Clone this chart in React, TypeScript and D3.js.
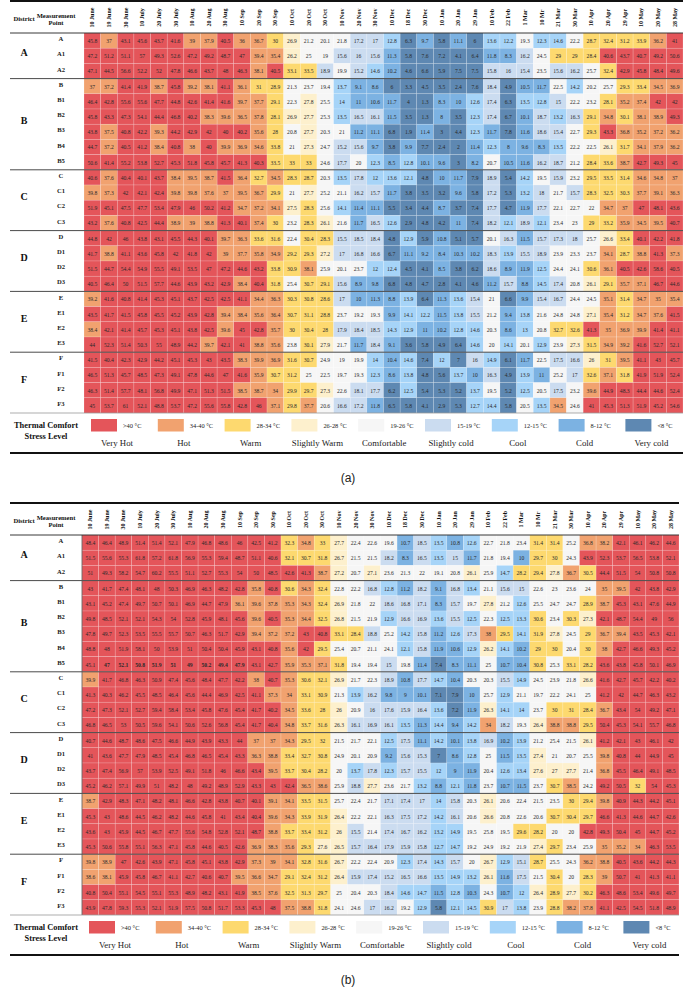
import React from 'react';
import * as d3 from 'd3';

// ---- Axis categories -------------------------------------------------------
const dates = [
  '10 June', '19 June', '30 June', '10 July', '20 July', '30 July', '10 Aug', '20 Aug', '30 Aug',
  '10 Sep', '20 Sep', '30 Sep', '10 Oct', '20 Oct', '30 Oct', '10 Nov', '20 Nov', '30 Nov',
  '10 Dec', '18 Dec', '30 Dec', '10 Jan', '20 Jan', '29 Jan', '10 Feb', '22 Feb', '1 Mar',
  '10 Mr', '21 Mar', '30 Mar', '10 Apr', '20 Apr', '29 Apr', '10 May', '20 May', '28 May',
];

const districts = ['A', 'B', 'C', 'D', 'E', 'F'];
const pointsA = ['A', 'A1', 'A2'];
const pointsB = ['B', 'B1', 'B2', 'B3', 'B4', 'B5'];
const pointsC = ['C', 'C1', 'C2', 'C3'];
const pointsD = ['D', 'D1', 'D2', 'D3'];
const pointsE = ['E', 'E1', 'E2', 'E3'];
const pointsF = ['F', 'F1', 'F2', 'F3'];

// ---- Panel (a) values (°C) -------------------------------------------------
const a_A = [
  [45.8, 37, 43.1, 45.6, 43.7, 41.6, 39, 37.9, 40.5, 36, 36.7, 30, 26.9, 21.2, 20.1, 21.8, 17.2, 17, 12.8, 6.3, 9.7, 5.8, 11.1, 6, 13.6, 12.2, 19.3, 12.3, 14.6, 22.2, 28.7, 32.4, 31.2, 33.9, 36.2, 41],
  [47.2, 51.2, 51.1, 57, 49.3, 52.6, 47.2, 49.2, 48.7, 47, 39.4, 35.4, 26.2, 25, 19, 15.6, 16, 15.6, 11.3, 5.8, 7.6, 7.2, 4.1, 6.4, 11.8, 8.3, 16.2, 24.5, 29, 29, 28.4, 40.6, 43.7, 40.7, 49.2, 50.6],
  [47.1, 44.5, 56.6, 52.2, 52, 47.8, 46.6, 43.7, 48, 46.3, 38.1, 40.5, 33.1, 33.5, 18.9, 19.9, 15.2, 14.6, 10.2, 4.6, 6.6, 5.9, 7.5, 7.5, 15.8, 16, 15.4, 23.5, 15.6, 16.2, 25.7, 32.4, 42.9, 45.8, 48.4, 49.6],
];
const a_B = [
  [37, 37.2, 41.4, 41.9, 38.7, 45.8, 39.2, 38.1, 41.1, 36.1, 31, 28.9, 21.3, 23.7, 19.4, 13.7, 9.1, 8.6, 6, 3.3, 4.5, 3.5, 2.4, 7.6, 18.4, 4.9, 10.5, 11.7, 22.5, 14.2, 20.2, 25.7, 29.3, 33.4, 34.5, 36.9],
  [46.4, 42.8, 55.6, 55.6, 47.7, 44.8, 42.6, 41.4, 41.6, 39.7, 37.7, 29.1, 22.3, 27.8, 25.5, 14, 11, 10.6, 11.7, 4, 1.3, 8.3, 10, 12.6, 17.4, 6.3, 13.5, 12.8, 15, 22.2, 23.2, 28.1, 35.2, 37.4, 42, 42],
  [45.8, 43.3, 47.3, 54.1, 44.4, 46.8, 40.2, 38.3, 39.6, 36.5, 37.8, 28.1, 26.9, 27.7, 25.3, 13.5, 16.5, 16.1, 11.5, 3.5, 1.3, 8, 3.5, 12.3, 17.4, 6.7, 10.1, 18.7, 13.2, 16.3, 29.1, 34.8, 30.1, 38.1, 38.9, 49.3],
  [43.8, 37.5, 40.8, 42.2, 39.3, 44.2, 42.9, 42, 40, 40.2, 35.6, 28, 20.8, 27.7, 20.3, 21, 11.2, 11.1, 6.8, 1.9, 11.4, 3, 4.4, 12.3, 11.7, 7.8, 11.6, 18.6, 15.4, 22.7, 29.3, 43.3, 36.8, 35.2, 37.2, 36.2],
  [44.7, 37.2, 40.5, 41.2, 38.4, 40.8, 38, 40, 39.9, 36.9, 34.6, 33.8, 21, 27.3, 24.7, 15.2, 15.6, 9.7, 3.8, 9.9, 7.7, 2.4, 2, 11.4, 12.3, 8, 9.6, 8.3, 13.5, 22.2, 22.5, 26.1, 31.7, 34.1, 37.9, 36.2],
  [50.6, 41.4, 55.2, 53.8, 52.7, 45.3, 51.8, 45.8, 45.7, 41.3, 40.3, 33.5, 33, 33, 24.6, 17.7, 20, 12.3, 8.5, 12.8, 10.1, 9.6, 3, 8.2, 20.7, 10.5, 11.6, 16.2, 18.7, 21.2, 28.4, 33.6, 38.7, 42.7, 49.3, 45],
];
const a_C = [
  [40.6, 37.6, 40.4, 40.1, 43.7, 38.4, 39.5, 38.7, 41.5, 36.4, 32.7, 34.5, 28.3, 28.7, 20.3, 13.5, 17.8, 12, 13.6, 12.1, 4.8, 10, 11.7, 7.9, 18.9, 5.4, 14.2, 19.5, 15.9, 23.2, 29.5, 33.5, 31.4, 34.6, 34.8, 37],
  [39.8, 37.3, 42, 42.1, 42.4, 39.8, 39.8, 37.6, 37, 39.5, 36.7, 29.9, 21, 27.7, 25.2, 21.1, 16.2, 15.7, 11.7, 3.8, 3.5, 3.2, 9.6, 5.8, 17.2, 5.3, 13.2, 18, 21.7, 15.7, 28.3, 32.5, 30.3, 37.7, 39.1, 36.3],
  [51.9, 45.1, 47.5, 47.7, 53.4, 47.9, 46, 50.2, 41.2, 34.7, 37.2, 34.1, 27.5, 28.3, 25.6, 14.1, 11.4, 11.1, 5.5, 3.4, 4.4, 8.7, 3.7, 7.4, 17.7, 4.7, 11.9, 17.7, 22.1, 22.7, 22, 34.7, 37, 47, 48.1, 43.6],
  [43.2, 37.6, 40.8, 42.5, 44.4, 38.9, 39, 38.8, 41.3, 40.1, 37.4, 30, 23.2, 28.3, 26.1, 21.6, 11.7, 16.5, 12.6, 2.9, 4.8, 4.2, 11, 7.4, 18.2, 12.1, 18.9, 12.1, 23.4, 23, 29, 33.2, 35.9, 34.5, 39.5, 40.7],
];
const a_D = [
  [44.8, 42, 46, 43.8, 43.1, 45.5, 44.3, 40.1, 39.7, 36.3, 33.6, 31.6, 22.4, 30.4, 28.3, 15.5, 18.5, 18.4, 4.8, 12.9, 5.9, 10.8, 5.1, 5.7, 20.1, 16.3, 11.5, 15.7, 17.3, 18, 25.7, 26.6, 33.4, 40.1, 42.2, 41.8],
  [41.7, 38.8, 41.1, 43.6, 45.8, 42, 41.8, 42, 39, 37.7, 35.8, 34.9, 29.2, 29.3, 27.2, 17, 16.8, 16.6, 6.7, 11.1, 9.2, 8.4, 10.3, 10.2, 18.3, 13.9, 15.5, 18.9, 23.9, 23.3, 23.7, 34.1, 28.7, 38.8, 41.3, 37.3],
  [51.5, 44.7, 54.4, 54.9, 55.5, 49.1, 53.5, 47, 47.2, 44.6, 43.2, 33.8, 30.9, 38.1, 25.9, 20.1, 23.7, 12, 12.4, 4.5, 4.1, 8.5, 3.8, 6.2, 18.6, 8.9, 11.9, 12.5, 24.4, 24.1, 30.6, 36.1, 40.5, 42.6, 58.6, 40.5],
  [40.5, 46.4, 50, 51.5, 57.7, 44.6, 43.9, 43.2, 42.9, 38.4, 40.4, 31.8, 25.4, 30.7, 29.1, 15.6, 8.9, 9.8, 6.8, 4.8, 4.7, 2.8, 4.1, 4.6, 11.2, 15.7, 8.8, 14.5, 17.4, 20.8, 26.1, 29.1, 35.7, 37.1, 46.7, 44.6],
];
const a_E = [
  [39.2, 41.6, 40.8, 41.4, 45.3, 45.1, 43.7, 42.5, 42.5, 41.1, 34.4, 36.3, 30.3, 30.8, 28.6, 17, 10, 11.3, 8.8, 13.9, 6.4, 11.3, 13.6, 15.4, 21, 6.6, 9.9, 15.4, 16.7, 24.4, 24.5, 35.1, 31.4, 34.7, 35, 35.4],
  [43.5, 41.7, 41.5, 45.8, 45.5, 45.2, 43.9, 42.8, 39.4, 38.4, 35.6, 36.4, 30.7, 31.1, 28.8, 23.7, 19.2, 19.3, 9.9, 14.1, 12.2, 11.5, 13.8, 15.5, 21.2, 9.4, 13.8, 21.6, 24.8, 24.8, 27.1, 35.4, 31.2, 34.7, 37.6, 41.5],
  [38.4, 42.1, 41.4, 45.7, 45.3, 45.1, 43.8, 42.5, 39.6, 45, 42.8, 35.7, 30, 30.4, 28, 17.9, 18.4, 18.5, 14.3, 12.9, 11, 10.2, 12.8, 14.6, 20.3, 8.6, 13, 20.8, 32.7, 32.6, 41.3, 35, 36.9, 39.9, 41.4, 41.1],
  [44, 52.3, 51.4, 50.3, 55, 48.9, 44.2, 39.7, 42.1, 41, 38.8, 35.6, 23.8, 30.1, 27.9, 21.7, 11.7, 18.4, 9.1, 3.6, 5.8, 4.9, 6.4, 14.6, 20, 14.1, 20.1, 12.9, 23.9, 27.3, 31.5, 34.9, 39.2, 41.6, 52.7, 52.1],
];
const a_F = [
  [41.5, 40.4, 42.3, 42.9, 44.2, 45.1, 45.3, 43, 43.5, 38.3, 39.9, 36.9, 31.6, 30.7, 24.9, 19, 19.9, 14, 10.4, 14.6, 7.4, 12, 7, 16, 14.9, 6.1, 11.7, 22.5, 17.5, 16.6, 26, 31, 39.5, 41.1, 43, 45.7],
  [46.5, 51.3, 45.7, 48.5, 47.3, 49.1, 47.8, 44.6, 47, 41.6, 35.9, 30.7, 31.2, 25, 22.5, 19.7, 19.3, 12.3, 8.6, 13.8, 4.8, 5.6, 13.7, 10, 16.3, 4.9, 13.9, 11, 25.2, 17, 32.6, 37.1, 31.8, 41.9, 51.9, 52.4],
  [46.3, 51.4, 57.7, 48.1, 56.8, 49.9, 47.1, 51.3, 51.5, 38.5, 38.7, 34, 29.9, 29.7, 27.3, 22.6, 18.1, 17.7, 6.2, 12.5, 5.4, 5.3, 5.2, 13.7, 19.5, 5.2, 12.5, 20.5, 17.5, 23.2, 39.6, 44.9, 48.3, 44.4, 44.6, 52.4],
  [45, 53.7, 61, 52.1, 48.8, 53.7, 47.2, 55.6, 55.8, 42.8, 46, 37.1, 29.8, 37.7, 20.6, 16.6, 17.2, 11.8, 6.5, 5.8, 4.1, 2.9, 5.3, 12.7, 14.4, 5.8, 20.5, 13.5, 34.5, 24.6, 41, 45.3, 51.3, 51.9, 45.2, 54.6],
];

// ---- Panel (b) values (°C) -------------------------------------------------
const b_A = [
  [48.4, 46.4, 48.9, 51.4, 51.4, 52.1, 47.9, 46.8, 48.6, 46, 42.5, 41.2, 32.3, 34.8, 33, 27.7, 22.4, 22.6, 19.6, 10.7, 18.5, 13.5, 10.8, 12.6, 22.7, 21.8, 23.4, 31.4, 31.4, 25.2, 36.8, 38.2, 42.1, 46.1, 46.2, 44.6],
  [51.5, 55.6, 55.3, 61.8, 57.2, 61.8, 56.9, 55.3, 59.4, 48.7, 51.1, 40.6, 32.1, 30.7, 31.8, 26.7, 21.5, 21.5, 18.2, 8.3, 16.5, 13.5, 15, 11.7, 21.8, 19.4, 10, 29.7, 30, 24.3, 43.9, 52.3, 53.7, 56.5, 53.8, 52.1],
  [51, 49.3, 58.2, 54.7, 60.2, 55.5, 51.1, 52.7, 55.3, 54, 50, 48.5, 42.6, 41.3, 38.7, 27.2, 20.7, 27.1, 23.6, 21.3, 22, 19.1, 20.8, 26.1, 25.9, 14.7, 28.2, 29.4, 27.8, 36.7, 30.5, 44.4, 51.5, 54, 50.8, 50.8],
];
const b_B = [
  [43, 41.7, 47.4, 48.1, 48, 50.3, 46.9, 46.3, 48.2, 42.8, 35.8, 40.8, 30.6, 34.3, 32.4, 22.8, 22.2, 16.8, 12.8, 11.2, 18.2, 9.1, 16.8, 13.4, 21.1, 15.6, 15, 22.6, 23, 23.6, 24, 35, 39.5, 42, 43.8, 42.9],
  [43.1, 45.2, 47.4, 49.7, 50.7, 50.1, 46.9, 44.7, 47.9, 36.1, 39.6, 37.8, 35.3, 34.3, 32.4, 26.9, 21.8, 22, 18.6, 16.8, 17.1, 8.3, 15.7, 19.7, 27.8, 21.2, 12.6, 25.5, 24.7, 24.7, 28.9, 38.7, 45.3, 43.1, 47.6, 44.9],
  [49.8, 48.5, 52.1, 52.1, 54.3, 54, 52.8, 45.9, 48.1, 45.6, 39.6, 40.5, 35.3, 34.4, 32.5, 26.8, 21.5, 21.9, 12.9, 16.6, 16.9, 13.6, 15.5, 12.5, 22.3, 12.5, 13.3, 30.6, 23.4, 30.3, 27.3, 42.1, 48.7, 54.4, 49, 56],
  [47.8, 49.7, 52.3, 53.5, 55.5, 55.7, 50.7, 46.3, 51.7, 42.9, 39.4, 37.2, 37.2, 43, 40.8, 33.1, 28.4, 18.8, 25.2, 14.2, 15.8, 11.2, 12.6, 17.3, 38, 29.5, 14.1, 31.9, 27.8, 24.5, 29, 36.7, 39.4, 43.5, 45.3, 42.1],
  [48.8, 48, 51.9, 58.1, 50, 53.9, 51, 50.4, 50.4, 45.9, 43.1, 40.8, 35.6, 42, 29.5, 25.4, 20.7, 21.1, 24.1, 12.1, 15.8, 11.9, 10.6, 12.9, 26.2, 14.1, 10.2, 29, 30, 20.4, 30, 38, 42.7, 46.6, 49.3, 45.2],
  [45.1, 47, 52.1, 50.8, 51.9, 51, 49, 50.2, 49.4, 47.9, 43.1, 42.7, 35.9, 35.3, 37.1, 31.8, 19.4, 19.4, 15, 19.8, 11.4, 7.4, 8.3, 11.1, 25, 10.7, 10.4, 30.8, 25.3, 33.1, 28.2, 43.6, 43.8, 45.8, 50.1, 46.9],
];
const b_C = [
  [39.9, 41.7, 46.8, 46.3, 50.9, 47.4, 45.6, 48.4, 47.7, 42.2, 38, 40.7, 35.3, 30.6, 32.1, 26.9, 21.7, 22.3, 18.9, 10.8, 17.7, 14.7, 10.4, 20.3, 20.3, 15.5, 14.9, 24.5, 23.9, 21.8, 26.6, 41.6, 42.7, 45.7, 42.2, 40.2],
  [41.3, 40.3, 46.2, 45.5, 48.5, 46.4, 45.6, 44.4, 46.9, 42.5, 41.1, 37.3, 34, 33.1, 30.9, 21.3, 13.9, 16.2, 9.8, 9, 10.1, 7.1, 7.9, 10, 25.7, 12.9, 21.1, 19.7, 22.2, 24.1, 25, 41.2, 42, 44.7, 46.3, 43.2],
  [47.2, 47.3, 52.1, 52.7, 59.4, 58.4, 53.4, 45.8, 47.6, 45.4, 41.7, 40.2, 34.5, 33.6, 28, 26, 20.9, 16, 17.6, 15.9, 16.4, 13.6, 7.2, 11.9, 26.3, 14.1, 14, 23.7, 30, 31, 28.4, 36.7, 43.4, 54, 49.2, 47.1],
  [46.8, 46.5, 53, 50.5, 59.6, 54.1, 50.6, 52.6, 56.8, 45.4, 41.7, 40.4, 34.8, 33.7, 31.6, 26.3, 16.1, 16.9, 16.1, 13.5, 11.3, 14.4, 9.4, 14.2, 34, 18.2, 19.3, 26.4, 38.8, 38.8, 29.5, 50.4, 45.3, 54.1, 55.7, 46.8],
];
const b_D = [
  [40.7, 44.6, 48.7, 48.6, 47.5, 46.6, 44.9, 43.9, 43.3, 44, 37, 37, 34.3, 29.5, 32, 21.5, 21.7, 22.1, 12.5, 17.5, 11.1, 14.2, 10.1, 13.8, 16.9, 10.2, 13.9, 21.2, 25.4, 21.5, 26.1, 41.2, 42.1, 43, 46.1, 42],
  [41, 43.6, 47.7, 47.9, 48.5, 45.4, 46.8, 46.5, 45.4, 43.3, 36.3, 38.8, 33.4, 32.7, 30.8, 24.9, 20.1, 20.9, 9.2, 15.6, 15.3, 7, 8.6, 12.8, 25, 11.5, 13.5, 27.4, 21, 20.7, 25.5, 39.8, 40.8, 44, 44.9, 45],
  [43.7, 47.4, 56.9, 57, 53.9, 52.5, 49.1, 51.8, 46, 46.6, 43.4, 39.5, 33.7, 30.4, 28.2, 20, 13.7, 17.8, 12.3, 15.7, 15.5, 12, 9, 11.9, 20.4, 12.6, 13.4, 27.6, 27, 27.7, 21.4, 36.8, 45.5, 46.4, 49.1, 48.5],
  [45.2, 46.2, 57.1, 49.9, 51, 48.2, 48, 49.2, 48.9, 52.9, 43.3, 43, 42.4, 36.5, 38.6, 25.9, 18.8, 27.7, 23.6, 21.7, 13.2, 8.8, 12.1, 11.8, 23.7, 10.7, 11.5, 23.7, 30.7, 38.5, 24.2, 49.2, 50.5, 32, 54, 45.3],
];
const b_E = [
  [38.7, 42.9, 48.3, 47.1, 48.2, 48.1, 46.6, 42.8, 43.8, 40.7, 40.1, 39.1, 34.1, 33.5, 31.5, 25.7, 22.4, 21.7, 17.1, 17.4, 17, 14, 15.8, 20.3, 26.1, 20.6, 22.4, 21.5, 23.5, 30, 29.4, 39.8, 40.9, 44.3, 44.2, 45.1],
  [45.3, 43, 48.6, 44.5, 46.2, 48.2, 44.6, 45.8, 41, 43.4, 40.4, 39.6, 34.3, 33.9, 31.9, 26.4, 22.2, 22.1, 16.3, 17.5, 17.2, 14.2, 16.1, 20.6, 26.6, 20.8, 22.6, 20.6, 30.7, 30.4, 29.7, 46.6, 41.3, 44.6, 44.7, 42.6],
  [43.6, 43, 45.9, 44.5, 46.7, 47.7, 55.6, 54.8, 52.8, 52.1, 48.7, 38.8, 33.7, 33.4, 31.2, 26, 15.5, 21.4, 17.4, 16.7, 16.2, 13.2, 14.9, 19.5, 25.8, 19.5, 29.6, 28.2, 20, 20, 42.8, 49.3, 50.4, 45, 44.7, 45.2],
  [45.3, 50.6, 55.8, 55.1, 56.3, 47.1, 45.8, 44.6, 40.5, 42.6, 36.9, 38.3, 35.6, 29.3, 27.6, 26.5, 15.7, 16.4, 17.9, 15.9, 15.8, 12.7, 14.7, 19.2, 24.9, 19.2, 21.9, 27.4, 29.7, 23.4, 25.9, 35, 35.2, 34, 46.3, 53.5],
];
const b_F = [
  [39.8, 38.9, 47, 42.6, 43.9, 47.1, 45.8, 45.1, 43.8, 42.9, 37.3, 39, 34.1, 32.8, 31.6, 26.7, 22.2, 22.4, 20.9, 12.3, 17.4, 14.3, 15.7, 20, 26.7, 12.9, 15.1, 28.7, 25.5, 24.3, 36.2, 38.8, 40.5, 43.6, 44.2, 44.3],
  [38.6, 38.1, 45.9, 45.8, 46.7, 41.1, 42.7, 40.6, 40.7, 39.5, 36.6, 34.7, 29.1, 32.4, 31.2, 26.4, 15.9, 17.4, 15.2, 16.5, 16.6, 13.5, 14.9, 13.2, 26.1, 11.6, 17.5, 21.5, 30.4, 20, 28.3, 39, 50.7, 41, 41.3, 41.1],
  [40.8, 50.4, 55.1, 54.5, 55.1, 55.3, 48.9, 48.2, 43.1, 41.9, 38.5, 37.6, 32.5, 31.3, 29.7, 25, 20.4, 20.3, 18.4, 14.6, 14.7, 11.5, 12.8, 10.3, 24.3, 10.7, 12, 26.4, 28.9, 27.7, 30.2, 46.3, 48.6, 53.4, 49.6, 49.7],
  [43.9, 47.8, 59.3, 55.3, 52.1, 51.9, 57.5, 50.8, 51.7, 53.3, 45.3, 48, 37.5, 38.8, 31.8, 24.1, 24.6, 17, 16.2, 19.2, 12.9, 5.8, 12.1, 14.5, 30.9, 17, 13.8, 23.9, 28.8, 38.2, 37.8, 41.1, 42.5, 54.5, 51.8, 48.9],
];
// Highlighted (bold) readings in panel (b), measurement point B5
const boldB5Cols = [1, 2, 3, 4, 5, 6, 7, 8, 9];

// ---- Thermal comfort classes -------------------------------------------------
const thresholds = [8, 12, 15, 19, 26, 28, 34, 40];
const classColors = ['#5e88b2', '#7cb2e2', '#a6d4f8', '#cbdcf0', '#f6f6f6', '#fdf0cd', '#fdd96f', '#f1a26f', '#e4555a'];
const legendRanges = ['>40 °C', '34-40 °C', '28-34 °C', '26-28 °C', '19-26 °C', '15-19 °C', '12-15 °C', '8-12 °C', '<8 °C'];
const legendNames = ['Very Hot', 'Hot', 'Warm', 'Slightly Warm', 'Comfortable', 'Slightly cold', 'Cool', 'Cold', 'Very cold'];

const W = 696;
const H = 991;
const SERIF = '"Liberation Serif", "Times New Roman", serif';
const SANS = '"Liberation Sans", Arial, sans-serif';
const LEFT = 10;

const color = d3.scaleThreshold<number, string>().domain(thresholds).range(classColors);

const groupPoints: Record<string, string[]> = {
  A: pointsA, B: pointsB, C: pointsC, D: pointsD, E: pointsE, F: pointsF,
};

type PanelData = Record<string, number[][]>;

const panelA: PanelData = { A: a_A, B: a_B, C: a_C, D: a_D, E: a_E, F: a_F };
const panelB: PanelData = { A: b_A, B: b_B, C: b_C, D: b_D, E: b_E, F: b_F };

interface PanelProps {
  top: number;
  x0: number;
  x1: number;
  data: PanelData;
  caption: string;
  leftRule?: boolean;
  bold?: { point: string; cols: number[] };
}

function Panel({ top, x0, x1, data, caption, leftRule, bold }: PanelProps) {
  const headerBottom = top + 32;
  const tableBottom = top + 412;

  const rows: { district: string; point: string; values: number[] }[] = [];
  districts.forEach((d) => {
    groupPoints[d].forEach((p, i) => rows.push({ district: d, point: p, values: data[d][i] }));
  });

  const x = d3.scaleBand<string>().domain(dates).range([x0, x1]);
  const y = d3.scaleBand<string>().domain(rows.map((r) => r.point)).range([headerBottom, tableBottom]);
  const bw = x.bandwidth();
  const bh = y.bandwidth();

  const legendX = d3.scaleLinear().domain([0, 1]).range([x0 + 7, x0 + 7 + 66.8]);

  return (
    <g>
      {/* cells */}
      {rows.map((r) => (
        <g key={r.point}>
          {r.values.map((v, j) => (
            <rect
              key={j}
              x={x(dates[j])}
              y={y(r.point)}
              width={bw}
              height={bh}
              fill={color(v)}
              stroke="#ffffff"
              strokeOpacity={0.35}
              strokeWidth={0.5}
            />
          ))}
          {r.values.map((v, j) => {
            const isBold = bold && bold.point === r.point && bold.cols.includes(j);
            return (
              <text
                key={'t' + j}
                x={(x(dates[j]) as number) + bw / 2}
                y={(y(r.point) as number) + bh / 2 + 0.3}
                textAnchor="middle"
                dominantBaseline="central"
                fontFamily={SERIF}
                fontSize={5.6}
                fontWeight={isBold ? 700 : 400}
                fill="#2a2a2a"
              >
                {v}
              </text>
            );
          })}
          <text
            x={61}
            y={(y(r.point) as number) + bh / 2 - 2}
            textAnchor="middle"
            dominantBaseline="central"
            fontFamily={SERIF}
            fontWeight={700}
            fontSize={6.6}
            fill="#222"
          >
            {r.point}
          </text>
        </g>
      ))}

      {/* district labels and group rules */}
      {districts.map((d, gi) => {
        const pts = groupPoints[d];
        const g0 = y(pts[0]) as number;
        const g1 = (y(pts[pts.length - 1]) as number) + bh;
        return (
          <g key={d}>
            <text
              x={24}
              y={(g0 + g1) / 2 - 3.5}
              textAnchor="middle"
              dominantBaseline="central"
              fontFamily={SERIF}
              fontWeight={700}
              fontSize={10}
              fill="#111"
            >
              {d}
            </text>
            {gi > 0 && <line x1={LEFT} x2={x1} y1={g0} y2={g0} stroke="#4a4a4a" strokeWidth={1} />}
          </g>
        );
      })}

      {leftRule && <line x1={x0} x2={x0} y1={headerBottom} y2={tableBottom} stroke="#555" strokeWidth={0.8} />}

      {/* header */}
      <line x1={LEFT} x2={x1} y1={top} y2={top} stroke="#111" strokeWidth={1.8} />
      <line x1={LEFT} x2={x1} y1={headerBottom} y2={headerBottom} stroke="#222" strokeWidth={0.9} />
      <line x1={LEFT} x2={x1} y1={tableBottom} y2={tableBottom} stroke="#8a8a8a" strokeWidth={0.7} />
      <text x={24} y={top + 17} textAnchor="middle" dominantBaseline="central" fontFamily={SERIF} fontWeight={700} fontSize={6.6} fill="#111">
        District
      </text>
      <text x={56} y={top + 14} textAnchor="middle" dominantBaseline="central" fontFamily={SERIF} fontWeight={700} fontSize={6.6} fill="#111">
        Measurement
      </text>
      <text x={56} y={top + 21.5} textAnchor="middle" dominantBaseline="central" fontFamily={SERIF} fontWeight={700} fontSize={6.6} fill="#111">
        Point
      </text>
      {dates.map((d) => {
        const cx = (x(d) as number) + bw / 2;
        const cy = top + 16.5;
        return (
          <text
            key={d}
            transform={`translate(${cx},${cy}) rotate(-90)`}
            textAnchor="middle"
            dominantBaseline="central"
            fontFamily={SERIF}
            fontWeight={700}
            fontSize={6}
            fill="#111"
          >
            {d}
          </text>
        );
      })}

      {/* legend */}
      <text x={46} y={top + 424.5} textAnchor="middle" dominantBaseline="central" fontFamily={SERIF} fontWeight={700} fontSize={8.4} fill="#111">
        Thermal Comfort
      </text>
      <text x={46} y={top + 435.5} textAnchor="middle" dominantBaseline="central" fontFamily={SERIF} fontWeight={700} fontSize={8.4} fill="#111">
        Stress Level
      </text>
      {legendNames.map((name, i) => {
        const lx = legendX(i);
        const c = classColors[classColors.length - 1 - i];
        return (
          <g key={name}>
            <rect x={lx} y={top + 418} width={26} height={12.5} fill={c} />
            <text x={lx + 32} y={top + 424.5} dominantBaseline="central" fontFamily={SERIF} fontSize={6.4} fill="#222">
              {legendRanges[i]}
            </text>
            <text x={lx + 26} y={top + 442} textAnchor="middle" dominantBaseline="central" fontFamily={SERIF} fontSize={8.8} fill="#222">
              {name}
            </text>
          </g>
        );
      })}
      <line x1={LEFT} x2={x1} y1={top + 452} y2={top + 452} stroke="#111" strokeWidth={1.8} />

      <text x={W / 2} y={top + 477} textAnchor="middle" dominantBaseline="central" fontFamily={SANS} fontSize={12} fill="#222">
        {caption}
      </text>
    </g>
  );
}

export default function App() {
  return (
    <svg
      width={W}
      height={H}
      viewBox={`0 0 ${W} ${H}`}
      style={{ position: 'absolute', left: 0, top: 0, background: '#ffffff' }}
    >
      <rect x={0} y={0} width={W} height={H} fill="#ffffff" />
      <Panel top={1} x0={84} x1={683} data={panelA} caption="(a)" />
      <Panel top={503} x0={82} x1={679} data={panelB} caption="(b)" leftRule bold={{ point: 'B5', cols: boldB5Cols }} />
    </svg>
  );
}
